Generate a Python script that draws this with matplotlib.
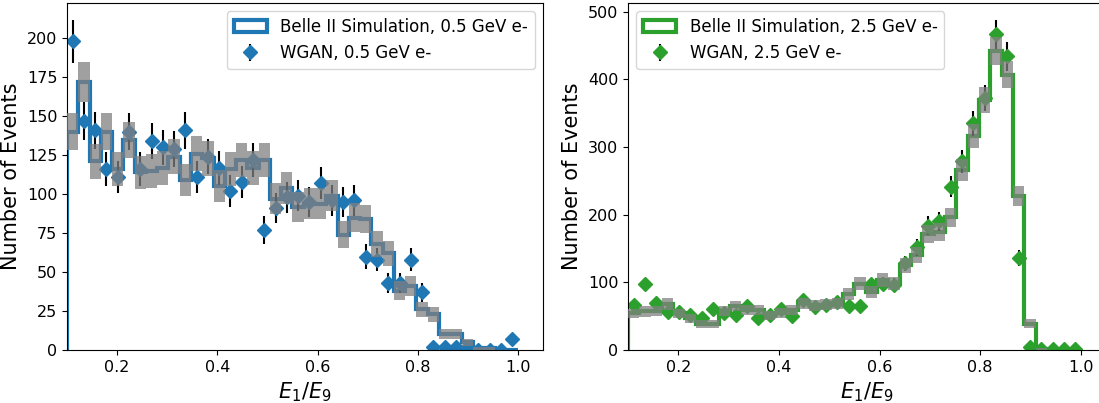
import numpy as np
import matplotlib
matplotlib.use("Agg")
import matplotlib.pyplot as plt

# 40 bins of E1/E9 between 0.1 and 1.0
bin_edges = np.linspace(0.1, 1.0, 41)

# 0.5 GeV e-
sim_05 = [140, 172, 121, 140, 116, 135, 114, 115, 117, 124,
          109, 126, 123, 105, 116, 122, 117, 122, 97, 104,
          92, 94, 94, 99, 74, 85, 84, 68, 62, 38,
          41, 26, 23, 10, 10, 5, 1, 1, 0, 0]
wgan_05 = [198, 147, 141, 116, 111, 140, 116, 134, 130, 129,
           141, 111, 124, 117, 102, 108, 122, 77, 91, 98,
           99, 95, 107, 96, 95, 96, 60, 58, 43, 43,
           58, 37, 2, 2, 2, 1, 0, 0, 0, 7]

# 2.5 GeV e-
sim_25 = [54, 57, 58, 68, 54, 47, 38, 38, 58, 65,
          59, 59, 51, 55, 59, 69, 66, 67, 69, 83,
          98, 86, 103, 98, 125, 140, 172, 175, 196, 266,
          316, 370, 442, 407, 228, 39, 2, 0, 0, 0]
wgan_25 = [66, 97, 69, 56, 56, 52, 47, 61, 54, 52,
           65, 48, 52, 61, 51, 74, 64, 67, 71, 65,
           65, 97, 98, 96, 128, 152, 184, 190, 241, 279,
           335, 372, 467, 434, 136, 4, 2, 1, 1, 1]

labels_sim = ["Belle II Simulation, 0.5 GeV e-", "Belle II Simulation, 2.5 GeV e-"]
labels_wgan = ["WGAN, 0.5 GeV e-", "WGAN, 2.5 GeV e-"]


def _plot_panel(ax, sim, wgan, color, sim_label, wgan_label, legend_loc):
    """Step histogram of simulation, WGAN points and grey sqrt(N) boxes."""
    sim = np.asarray(sim, dtype=float)
    wgan = np.asarray(wgan, dtype=float)
    centers = 0.5 * (bin_edges[:-1] + bin_edges[1:])
    width = bin_edges[1] - bin_edges[0]

    ax.hist(centers, bins=bin_edges, weights=sim, histtype="step",
            linewidth=3, color=color, label=sim_label, zorder=1)
    ax.errorbar(centers, wgan, yerr=np.sqrt(wgan), fmt="D", color=color,
                ecolor="black", elinewidth=1.5, markersize=7,
                label=wgan_label, zorder=2)

    # uncertainty boxes on the simulation
    err = np.sqrt(sim)
    ax.bar(centers, 2 * err, bottom=sim - err, width=width,
           color="grey", alpha=0.75, linewidth=0, zorder=3)

    ax.set_xlim(0.1, 1.05)
    ax.set_ylim(bottom=0)
    ax.set_xticks([0.2, 0.4, 0.6, 0.8, 1.0])
    ax.tick_params(labelsize=11.5)
    ax.set_xlabel("$E_1/E_9$", fontsize=15)
    ax.set_ylabel("Number of Events", fontsize=15)
    ax.legend(loc=legend_loc, fontsize=12)


fig = plt.figure(figsize=(10.99, 4.03), dpi=100)
ax1 = fig.add_axes([67 / 1099, 53 / 403, 476 / 1099, 347 / 403])
ax2 = fig.add_axes([628 / 1099, 53 / 403, 478 / 1099, 347 / 403])

_plot_panel(ax1, sim_05, wgan_05, "tab:blue", labels_sim[0], labels_wgan[0],
            "upper right")
_plot_panel(ax2, sim_25, wgan_25, "tab:green", labels_sim[1], labels_wgan[1],
            "upper left")

fig.savefig("out.png", dpi=100)
plt.close(fig)
